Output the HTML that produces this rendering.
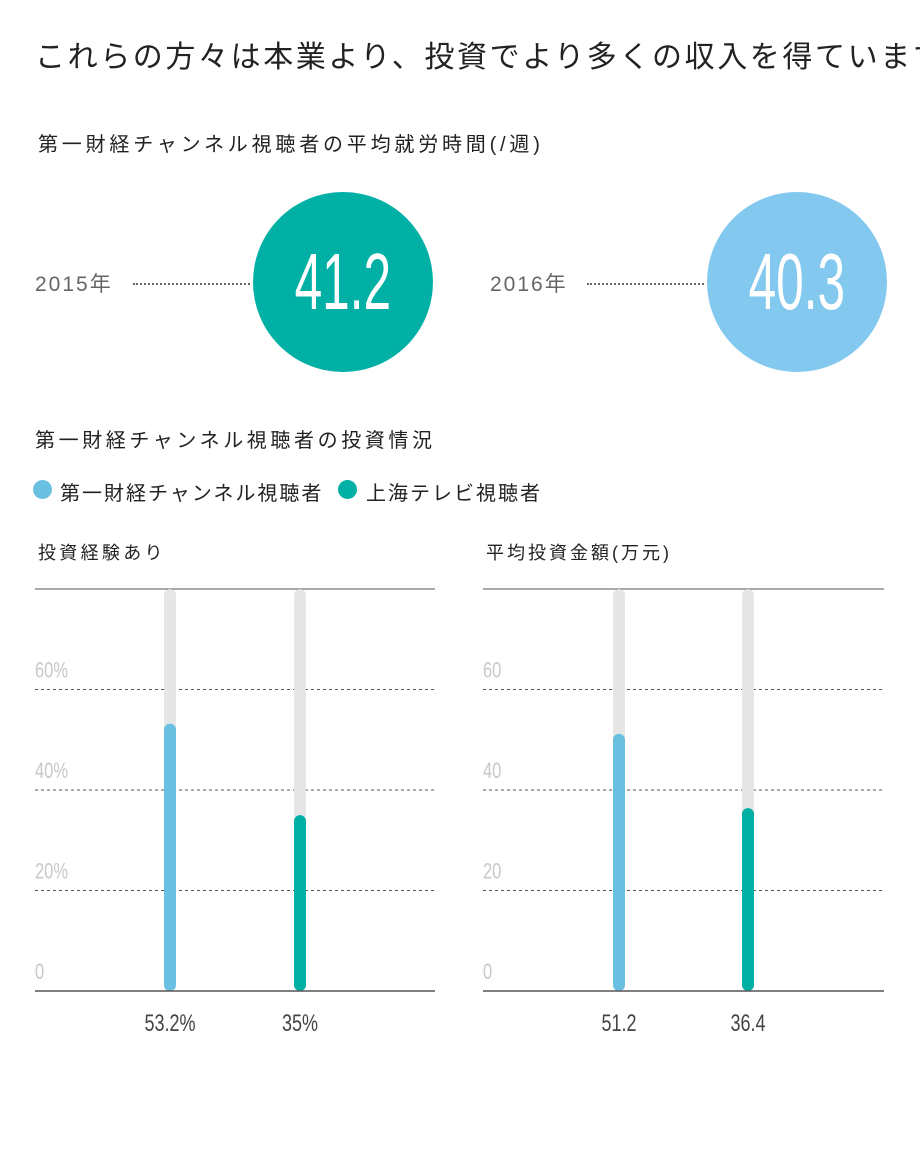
<!DOCTYPE html>
<html><head><meta charset="utf-8"><style>
body{margin:0;background:#fff;font-family:"Liberation Sans","Noto Sans CJK JP",sans-serif;}
#root{position:relative;width:920px;height:1157px;overflow:hidden;}
.t{position:absolute;white-space:nowrap;color:#222;}
.num{display:inline-block;transform:scaleX(0.62);}
</style></head><body><div id="root">
<div class="t" style="left:35px;top:32px;font-size:30px;letter-spacing:2.6px;">これらの方々は本業より、投資でより多くの収入を得ています</div>
<div class="t" style="left:38px;top:128px;font-size:20px;letter-spacing:3.8px;">第一財経チャンネル視聴者の平均就労時間(/週)</div>
<div class="t" style="left:35px;top:268px;font-size:21px;color:#666;letter-spacing:2px;">2015年</div>
<div style="position:absolute;left:133px;top:283px;width:117px;border-top:2px dotted #666;"></div>
<div style="position:absolute;left:253px;top:192px;width:180px;height:180px;border-radius:50%;background:#00b0a4;color:#fff;font-size:80px;text-align:center;line-height:180px;"><span class="num">41.2</span></div>
<div class="t" style="left:490px;top:268px;font-size:21px;color:#666;letter-spacing:2px;">2016年</div>
<div style="position:absolute;left:587px;top:283px;width:117px;border-top:2px dotted #666;"></div>
<div style="position:absolute;left:707px;top:192px;width:180px;height:180px;border-radius:50%;background:#82c8ef;color:#fff;font-size:80px;text-align:center;line-height:180px;"><span class="num">40.3</span></div>
<div class="t" style="left:35px;top:424px;font-size:20px;letter-spacing:3.6px;">第一財経チャンネル視聴者の投資情況</div>
<div style="position:absolute;left:33px;top:480px;width:19px;height:19px;border-radius:50%;background:#6ac0e0;"></div>
<div class="t" style="left:60px;top:477px;font-size:20px;letter-spacing:2px;">第一財経チャンネル視聴者</div>
<div style="position:absolute;left:338px;top:480px;width:19px;height:19px;border-radius:50%;background:#00b0a4;"></div>
<div class="t" style="left:366px;top:477px;font-size:20px;letter-spacing:2px;">上海テレビ視聴者</div>
<div class="t" style="left:38px;top:539px;font-size:18px;letter-spacing:3.3px;">投資経験あり</div>
<div class="t" style="left:486px;top:539px;font-size:18px;letter-spacing:3px;">平均投資金額(万元)</div>
<svg id="svg" width="920" height="1157" style="position:absolute;left:0;top:0"></svg>
</div>
<script>
const ticks1=["0","20%","40%","60%"];
const ticks2=["0","20","40","60"];
const tickVals=[0,20,40,60];
const vals1=[53.2,35];
const labels1=["53.2%","35%"];
const vals2=[51.2,36.4];
const labels2=["51.2","36.4"];
const colors=["#6ac0e0","#00b0a4"];
const svg=document.getElementById('svg');
const NS='http://www.w3.org/2000/svg';
const y=v=>991-v*(402/80);
function mk(t,a){const e=document.createElementNS(NS,t);for(const k in a)e.setAttribute(k,a[k]);svg.appendChild(e);return e;}
function chart(x0,x1,barX,vals,labels,ticks,id){
  let e=mk('line',{x1:x0,x2:x1,y1:y(80),y2:y(80),stroke:'#555','stroke-width':1});
  
  
  tickVals.forEach((v,i)=>{
    if(v>0){const g=mk('line',{x1:x0,x2:x1,y1:y(v),y2:y(v),stroke:'#555','stroke-dasharray':'3,3'});
    
    }
    const t=mk('text',{x:x0,y:y(v)-12,fill:'#c8c8c8','font-size':22,transform:'translate('+x0+',0) scale(0.75,1) translate('+(-x0)+',0)'});
    t.textContent=ticks[i];
    
    
  });
  vals.forEach((v,i)=>{
    const bg=mk('rect',{x:barX[i]-6,y:y(80),width:12,height:y(0)-y(80),rx:6,fill:'#e6e6e6'});
    
    
    const b=mk('rect',{x:barX[i]-6,y:y(v),width:12,height:y(0)-y(v),rx:6,fill:colors[i]});
    
    
    const l=mk('text',{x:barX[i],y:1031,'text-anchor':'middle',fill:'#444','font-size':24,transform:'translate('+barX[i]+',0) scale(0.75,1) translate('+(-barX[i])+',0)'});
    l.textContent=labels[i];
    
    
  });
  e=mk('line',{x1:x0,x2:x1,y1:y(0),y2:y(0),stroke:'#555','stroke-width':1.5});
  
  
}
chart(35,435,[170,300],vals1,labels1,ticks1,'experience-chart');
chart(483,884,[619,748],vals2,labels2,ticks2,'amount-chart');
</script>
</body></html>
